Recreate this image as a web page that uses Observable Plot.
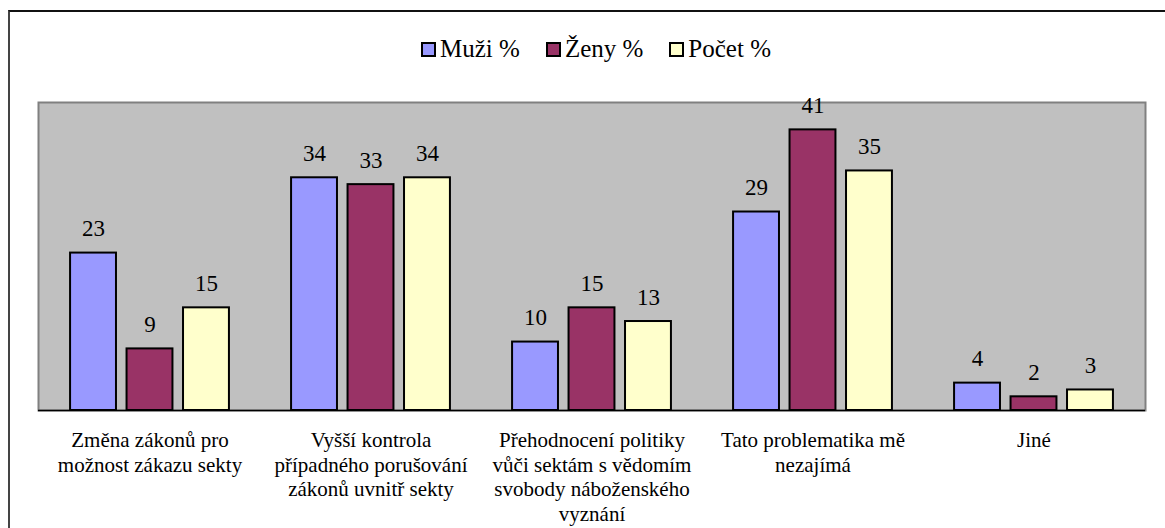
<!DOCTYPE html>
<html><head><meta charset="utf-8">
<script src="https://cdn.jsdelivr.net/npm/d3@7"></script>
<script src="https://cdn.jsdelivr.net/npm/@observablehq/plot@0.6"></script>
<style>
body{margin:0;background:#fff;}
#wrap{position:relative;width:1165px;height:528px;overflow:hidden;font-family:"Liberation Serif","Times New Roman",Tinos,"DejaVu Serif","Noto Serif",serif;}
#border{position:absolute;left:8px;top:10px;width:1200px;height:600px;border-top:2px solid #111;border-left:2px solid #444;pointer-events:none;}
#legend{height:62px;padding-top:18px;padding-left:27px;display:flex;justify-content:center;align-items:center;gap:26px;font-size:25px;color:#000;}
.item{display:flex;align-items:center;gap:4px;}
.sw{width:11px;height:11px;border:2px solid #000;}
#chart svg{display:block;}
#chart svg text{font-family:"Liberation Serif","Times New Roman",Tinos,"DejaVu Serif","Noto Serif",serif;}
</style></head>
<body>
<div id="wrap">
<div id="border"></div>
<div id="legend"></div>
<div id="chart"></div>
</div>
<script>
const categories = [
  "Změna zákonů pro\nmožnost zákazu sekty",
  "Vyšší kontrola\npřípadného porušování\nzákonů uvnitř sekty",
  "Přehodnocení politiky\nvůči sektám s vědomím\nsvobody náboženského\nvyznání",
  "Tato problematika mě\nnezajímá",
  "Jiné"
];
const seriesNames = ["Muži %", "Ženy %", "Počet %"];
const muzi = [23, 34, 10, 29, 4];
const zeny = [9, 33, 15, 41, 2];
const pocet = [15, 34, 13, 35, 3];

const colors = ["#9999FF", "#993366", "#FFFFCC"];
const seriesValues = [muzi, zeny, pocet];

// legend
const leg = document.getElementById("legend");
seriesNames.forEach((n, i) => {
  const it = document.createElement("div"); it.className = "item";
  const sw = document.createElement("div"); sw.className = "sw"; sw.style.background = colors[i];
  const t = document.createElement("span"); t.textContent = n;
  it.appendChild(sw); it.appendChild(t); leg.appendChild(it);
});

const W = 1165, H = 448, ml = 38, mr = 20, mt = 22, mb = 118;
const bw = (W - ml - mr) / categories.length;
const pIn = 0.18, pOut = 0.55;
const step = bw / (3 - pIn + 2 * pOut);
const barW = step * (1 - pIn);
const off = i => pOut * step + i * step;

const fontFamily = "'Liberation Serif', 'Times New Roman', Tinos, 'DejaVu Serif', serif";
const marks = [
  Plot.frame({fill: "#C0C0C0", stroke: "#808080", strokeWidth: 2}),
];
seriesNames.forEach((name, i) => {
  const rows = categories.map((c, j) => ({cat: c, v: seriesValues[i][j]}));
  marks.push(Plot.barY(rows, {
    x: "cat", y: "v", fill: colors[i], stroke: "#000", strokeWidth: 2,
    insetLeft: off(i), insetRight: bw - off(i) - barW
  }));
  marks.push(Plot.text(rows, {
    x: "cat", y: "v", text: d => String(d.v),
    dx: -bw / 2 + off(i) + barW / 2, dy: -17, lineAnchor: "bottom",
    fontSize: 23, fontFamily, fill: "#000"
  }));
});
marks.push(Plot.ruleY([0], {stroke: "#000", strokeWidth: 1.5}));
marks.push(Plot.text(categories, {
  x: d => d, text: d => d, frameAnchor: "bottom", lineAnchor: "top", dy: 19,
  fontSize: 21, lineHeight: 1.17, fontFamily, fill: "#000"
}));

const chart = Plot.plot({
  width: W, height: H, marginLeft: ml, marginRight: mr, marginTop: mt, marginBottom: mb,
  x: {type: "band", domain: categories, padding: 0, axis: null},
  y: {domain: [0, 45], axis: null},
  style: {background: "transparent", fontFamily},
  marks
});
document.getElementById("chart").appendChild(chart);
</script>
</body></html>
